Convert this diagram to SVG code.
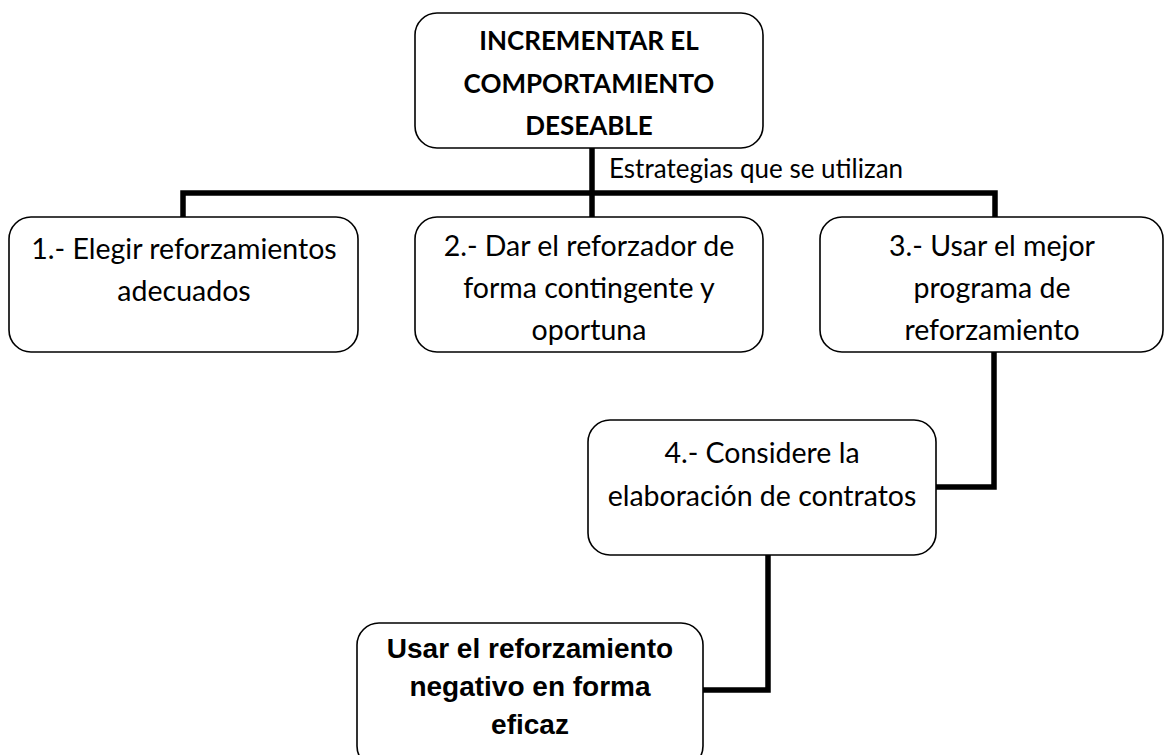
<svg xmlns="http://www.w3.org/2000/svg" width="1165" height="755" viewBox="0 0 1165 755">
<style>
.box{fill:#fff;stroke:#000;stroke-width:1.6}
.con{fill:none;stroke:#000;stroke-width:5.5;stroke-linejoin:miter}
.t{font-family:Lato,"Open Sans","Liberation Sans",sans-serif;font-size:28.5px;fill:#000;text-anchor:middle}
.tb{font-family:Lato,"Open Sans","Liberation Sans",sans-serif;font-size:26px;font-weight:bold;fill:#000;text-anchor:middle}
.ta{font-family:"Liberation Sans",Arial,sans-serif;font-size:28px;font-weight:bold;fill:#000;text-anchor:middle}
</style>
<rect width="1165" height="755" fill="#fff"/>
<g id="connectors">
<path class="con" d="M592,148 V193"/>
<path class="con" d="M183,217 V193 H995 V217"/>
<path class="con" d="M592,193 V217"/>
<path class="con" d="M994,352 V487 H936"/>
<path class="con" d="M768,555 V690 H703"/>
<text x="609" y="178" class="t" style="text-anchor:start;font-size:26px">Estrategias que se utilizan</text>
</g>
<g id="root">
<rect class="box" x="415" y="13" width="348" height="135" rx="22"/>
<text class="tb" x="589" y="50">INCREMENTAR EL</text>
<text class="tb" x="589" y="93">COMPORTAMIENTO</text>
<text class="tb" x="589" y="135">DESEABLE</text>
</g>
<g id="n1">
<rect class="box" x="9" y="217" width="349" height="135" rx="22"/>
<text class="t" x="184" y="259">1.- Elegir reforzamientos</text>
<text class="t" x="184" y="301">adecuados</text>
</g>
<g id="n2">
<rect class="box" x="415" y="217" width="348" height="135" rx="22"/>
<text class="t" x="589" y="256">2.- Dar el reforzador de</text>
<text class="t" x="589" y="298">forma contingente y</text>
<text class="t" x="589" y="340">oportuna</text>
</g>
<g id="n3">
<rect class="box" x="820" y="217" width="343" height="135" rx="22"/>
<text class="t" x="992" y="256">3.- Usar el mejor</text>
<text class="t" x="992" y="298">programa de</text>
<text class="t" x="992" y="340">reforzamiento</text>
</g>
<g id="n4">
<rect class="box" x="588" y="420" width="348" height="135" rx="22"/>
<text class="t" x="762" y="463">4.- Considere la</text>
<text class="t" x="762" y="506">elaboración de contratos</text>
</g>
<g id="n5">
<rect class="box" x="357" y="623" width="346" height="145" rx="22"/>
<text class="ta" x="530" y="658">Usar el reforzamiento</text>
<text class="ta" x="530" y="696">negativo en forma</text>
<text class="ta" x="530" y="734">eficaz</text>
</g>
</svg>
